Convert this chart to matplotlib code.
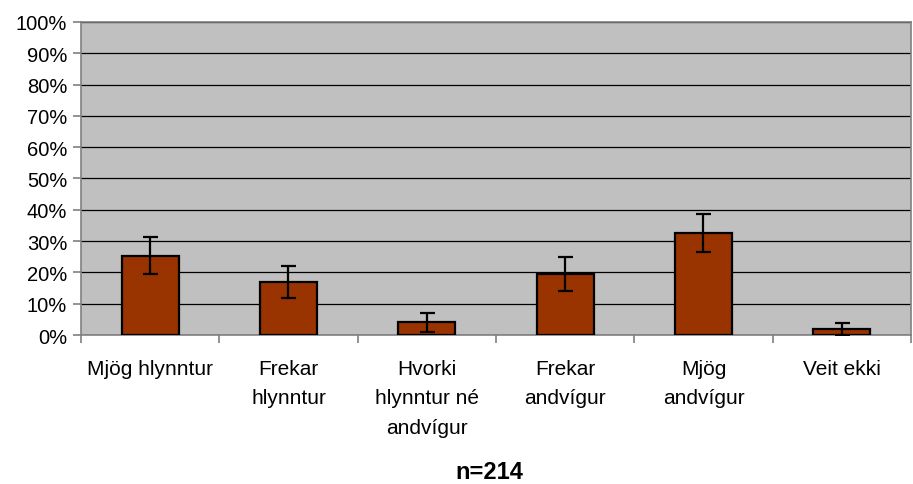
import matplotlib.pyplot as plt
import numpy as np

categories = ["Mjög hlynntur", "Frekar\nhlynntur", "Hvorki\nhlynntur né\nandvígur",
              "Frekar\nandvígur", "Mjög\nandvígur", "Veit ekki"]
values = [25.4, 17.0, 4.0, 19.5, 32.5, 2.0]
errors = [5.8, 5.1, 3.0, 5.3, 6.1, 1.9]
ytick_labels = ["%d%%" % v for v in range(0, 101, 10)]

plt.rcParams['font.family'] = ['Liberation Sans', 'DejaVu Sans']

fig = plt.figure(figsize=(9.13, 4.85), dpi=100)
ax = fig.add_axes([0.0887, 0.3072, 0.9091, 0.6454])
ax.set_facecolor("#C0C0C0")

x = np.arange(len(categories))
ax.bar(x, values, width=0.41, color="#993300", edgecolor="black", linewidth=1.6, zorder=3)
ax.errorbar(x, values, yerr=errors, fmt="none", ecolor="black", elinewidth=1.6,
            capsize=5.4, capthick=1.6, zorder=4)

ax.set_xlim(-0.5, len(categories) - 0.5)
ax.set_ylim(0, 100)
ax.set_yticks(range(0, 101, 10))
ax.set_yticklabels(ytick_labels, fontsize=14.5)
ax.yaxis.grid(True, color="black", linewidth=0.9, zorder=1)
ax.set_axisbelow(True)

ax.set_xticks(x)
ax.set_xticklabels(categories, fontsize=15, linespacing=1.72)
ax.set_xticks(np.arange(-0.5, len(categories)), minor=True)
ax.tick_params(axis="x", which="major", length=0, pad=17)
ax.tick_params(axis="x", which="minor", length=6, color="#808080", width=1.2)
ax.tick_params(axis="y", length=6, color="#808080", width=1.2, pad=4)

for s in ["left", "bottom", "top", "right"]:
    ax.spines[s].set_color("#808080")
    ax.spines[s].set_linewidth(1.2)

fig.text(0.536, 0.025, "n=214", ha="center", va="center", fontsize=17, fontweight="bold")

fig.savefig("out.png", dpi=100)
